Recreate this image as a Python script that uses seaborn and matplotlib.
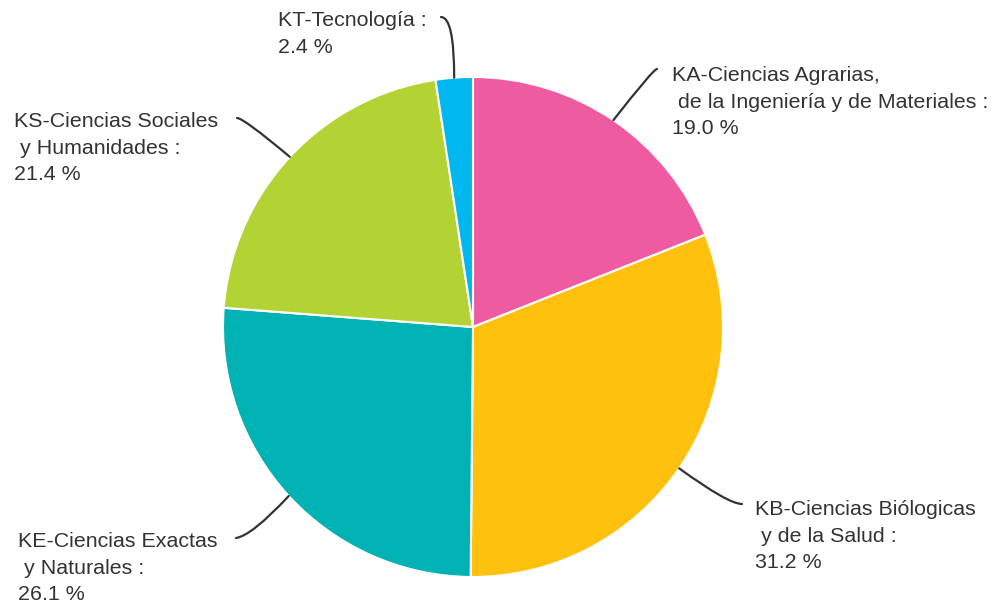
import matplotlib
matplotlib.use("Agg")
import matplotlib.pyplot as plt
import seaborn as sns
import numpy as np

# Pie data
labels = ["KA-Ciencias Agrarias,\n de la Ingeniería y de Materiales :",
          "KB-Ciencias Biólogicas\n y de la Salud :",
          "KE-Ciencias Exactas\n y Naturales :",
          "KS-Ciencias Sociales\n y Humanidades :",
          "KT-Tecnología :"]
values = [19.0, 31.2, 26.1, 21.4, 2.4]
colors = ["#EE5BA1", "#FFC10E", "#00B2B4", "#B3D334", "#00B8EF"]

# label anchor (x, y in px from top-left) and connector end points
label_pos = [(672, 102), (755, 536), (18, 568), (14, 148), (278, 34)]
line_end = [(657, 69), (742, 504), (236, 538), (237, 118), (441, 17)]
line_angles = [(0, 52), (0, -36), (8, 47), (0, -40), (0, 90)]

sns.set_theme(style="white")
plt.rcParams['font.family'] = ['Liberation Sans', 'DejaVu Sans']

W, H = 992, 608
fig = plt.figure(figsize=(W / 100, H / 100), dpi=100)
ax = fig.add_axes([0, 0, 1, 1])

cx, cy, r = 473, H - 327, 250
wedges, _ = ax.pie(values, colors=colors, startangle=90, counterclock=False,
                   center=(cx, cy), radius=r, frame=True,
                   wedgeprops=dict(edgecolor="white", linewidth=1.5))
ax.set_xlim(0, W)
ax.set_ylim(0, H)
ax.set_axis_off()

for w, lab, v, (tx, ty), (ex, ey), (a1, a2) in zip(wedges, labels, values, label_pos,
                                                    line_end, line_angles):
    ang = np.deg2rad((w.theta1 + w.theta2) / 2)
    sx, sy = cx + r * np.cos(ang), cy + r * np.sin(ang)
    ax.annotate("", xy=(sx, sy), xytext=(ex, H - ey),
                arrowprops=dict(arrowstyle="-", color="#333333", lw=1.6,
                                shrinkA=0, shrinkB=0,
                                connectionstyle=f"angle3,angleA={a1},angleB={a2}"))
    ax.text(tx, H - ty, f"{lab}\n{v:.1f} %", ha="left", va="center",
            fontsize=15.4, color="#333333", linespacing=1.5)

fig.savefig("out.png", dpi=100, facecolor="white")
